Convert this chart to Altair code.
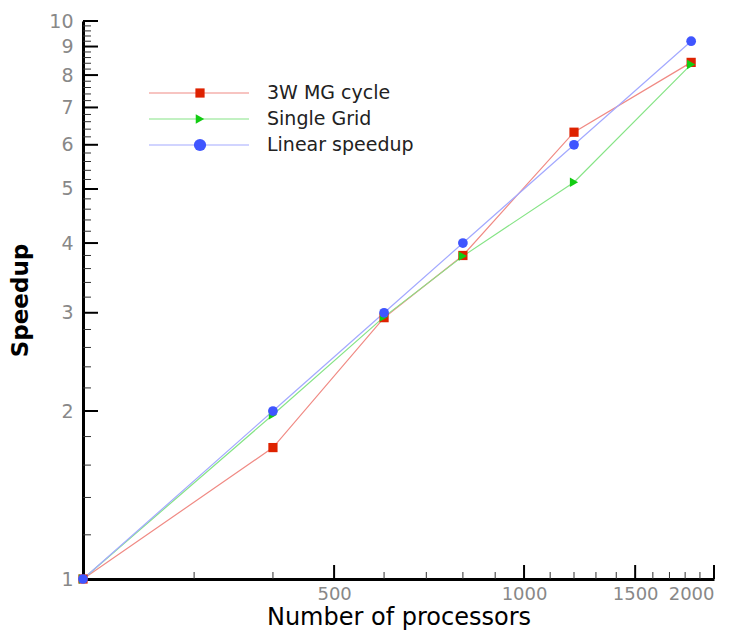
import altair as alt
import pandas as pd

# ---- data ----
procs = [200, 400, 600, 800, 1200, 1840]
mg3w = [1.0, 1.72, 2.94, 3.80, 6.32, 8.43]
single = [1.0, 1.97, 2.95, 3.79, 5.14, 8.36]
linear = [1.0, 2.0, 3.0, 4.0, 6.0, 9.2]
series_names = ["3W MG cycle", "Single Grid", "Linear speedup"]

x_major = [500, 1000, 1500, 2000]
x_minor = [300, 400, 600, 700, 800, 900, 1100, 1200, 1300, 1400, 1600, 1700, 1800, 1900]
y_major = [1, 2, 3, 4, 5, 6, 7, 8, 9, 10]
y_minor = [round(i + f, 1) for i in range(1, 10) for f in (0.2, 0.4, 0.6, 0.8)]

# ---- styles ----
line_colors = ["#f08a84", "#86e486", "#a3a9ff"]
marker_colors = ["#de2200", "#12cc12", "#3f55ff"]
marker_shapes = ["square", "triangle-right", "circle"]
marker_sizes = [85, 95, 150]
FONT = "DejaVu Sans"
W, H = 631, 558

rows = []
for name, vals in zip(series_names, [mg3w, single, linear]):
    for p, v in zip(procs, vals):
        rows.append({"procs": p, "speedup": v, "series": name})
df = pd.DataFrame(rows)

xscale = alt.Scale(type="log", domain=[200, 2000], nice=False)
yscale = alt.Scale(type="log", domain=[1, 10], nice=False)

x_axis = alt.Axis(values=x_major, ticks=False, grid=False, format="d",
                  labelFont=FONT, labelFontSize=18, labelColor="#888888", labelPadding=6,
                  domainColor="black", domainWidth=3,
                  title="Number of processors", titleFont=FONT, titleFontSize=24,
                  titleFontWeight="normal", titleColor="black", titlePadding=2)
y_axis = alt.Axis(values=y_major, ticks=False, grid=False, format="d",
                  labelFont=FONT, labelFontSize=19, labelColor="#888888", labelPadding=10,
                  domainColor="black", domainWidth=3,
                  title="Speedup", titleFont=FONT, titleFontSize=23,
                  titleFontWeight="bold", titleColor="black", titlePadding=16)

X = lambda f: alt.X(f, scale=xscale, axis=x_axis)
Y = lambda f: alt.Y(f, scale=yscale, axis=y_axis)

lines = alt.Chart(df).mark_line(strokeWidth=1.2, clip=False).encode(
    x=X("procs:Q"), y=Y("speedup:Q"),
    color=alt.Color("series:N", scale=alt.Scale(domain=series_names, range=line_colors), legend=None),
)

points = alt.Chart(df).mark_point(filled=True, opacity=1, strokeWidth=0, clip=False).encode(
    x=X("procs:Q"), y=Y("speedup:Q"),
    fill=alt.Fill("series:N", scale=alt.Scale(domain=series_names, range=marker_colors), legend=None),
    shape=alt.Shape("series:N", scale=alt.Scale(domain=series_names, range=marker_shapes), legend=None),
    size=alt.Size("series:N", scale=alt.Scale(domain=series_names, range=marker_sizes), legend=None),
)

xmaj = alt.Chart(pd.DataFrame({"procs": x_major})).mark_rule(color="black", strokeWidth=2).encode(
    x=X("procs:Q"), y=alt.value(H), y2=alt.value(H - 14))
xmin = alt.Chart(pd.DataFrame({"procs": x_minor})).mark_rule(color="#333333", strokeWidth=1).encode(
    x=X("procs:Q"), y=alt.value(H), y2=alt.value(H - 7))
ymaj = alt.Chart(pd.DataFrame({"speedup": y_major})).mark_rule(color="black", strokeWidth=2).encode(
    y=Y("speedup:Q"), x=alt.value(0), x2=alt.value(15))
ymin = alt.Chart(pd.DataFrame({"speedup": y_minor})).mark_rule(color="#333333", strokeWidth=1).encode(
    y=Y("speedup:Q"), x=alt.value(0), x2=alt.value(8))

# ---- legend (drawn inside plot area, upper left) ----
legend_layers = []
for i, name in enumerate(series_names):
    yy = 72 + 26 * i
    d = pd.DataFrame({"label": [name]})
    legend_layers.append(alt.Chart(d).mark_rule(color=line_colors[i], strokeWidth=1.2).encode(
        x=alt.value(66), x2=alt.value(166), y=alt.value(yy)))
    legend_layers.append(alt.Chart(d).mark_point(filled=True, opacity=1, strokeWidth=0,
                                                 shape=marker_shapes[i], size=marker_sizes[i],
                                                 color=marker_colors[i]).encode(
        x=alt.value(117), y=alt.value(yy)))
    legend_layers.append(alt.Chart(d).mark_text(align="left", baseline="middle", font=FONT,
                                                fontSize=19, color="#222222").encode(
        x=alt.value(184), y=alt.value(yy), text="label:N"))

chart = alt.layer(lines, ymin, ymaj, xmin, xmaj, points, *legend_layers).properties(
    width=W, height=H,
    autosize=alt.AutoSizeParams(type="none"),
    padding={"left": 83, "top": 21, "right": 26, "bottom": 52},
).configure(background="white").configure_view(stroke=None)

chart.save("out.html", embed_options={"renderer": "svg", "actions": False})
